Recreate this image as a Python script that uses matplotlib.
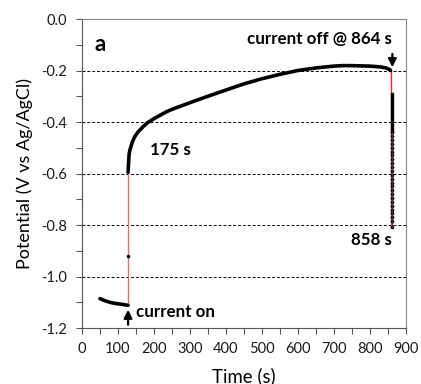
import matplotlib
matplotlib.use("Agg")
import matplotlib.pyplot as plt
from matplotlib.ticker import MultipleLocator, FuncFormatter

plt.rcParams['font.family'] = ['Lato', 'DejaVu Sans']
plt.rcParams['axes.unicode_minus'] = False

# Segment before current on
t_pre = [50, 60, 70, 80, 90, 100, 110, 120, 128]
v_pre = [-1.086, -1.092, -1.097, -1.101, -1.104, -1.106, -1.108, -1.110, -1.112]

# Transition point and current-on step
t_on = 128
v_on_step = [-1.112, -0.595]
t_on_pt = [128]
v_on_pt = [-0.920]

# Current-on charging curve
t_main = [128, 129, 130, 131, 133, 135, 140, 147, 155, 165, 180, 200, 235, 250,
          300, 350, 400, 450, 500, 550, 600, 650, 700, 725, 750, 800, 830, 845, 855, 858]
v_main = [-0.595, -0.57, -0.545, -0.525, -0.51, -0.50, -0.477, -0.456, -0.44, -0.425,
          -0.405, -0.387, -0.36, -0.351, -0.325, -0.300, -0.276, -0.252, -0.232,
          -0.215, -0.200, -0.190, -0.183, -0.181, -0.181, -0.183, -0.186, -0.190, -0.196, -0.200]

# Current-off relaxation
t_off = 859
t_off_pts = 861
v_off_step = [-0.200, -0.806]
v_off_dense = [-0.291, -0.44]
v_off_pts = [-0.44, -0.455, -0.47, -0.485, -0.50, -0.515, -0.53, -0.545, -0.56, -0.575,
             -0.59, -0.605, -0.62, -0.635, -0.65, -0.665, -0.68, -0.695, -0.71, -0.725,
             -0.74, -0.755, -0.77, -0.785, -0.806]

fig = plt.figure(figsize=(4.21, 3.84), dpi=100)
ax = fig.add_axes([0.1948, 0.1458, 0.7688, 0.8047])

ax.set_xlim(0, 900)
ax.set_ylim(-1.2, 0.0)

for y in [-0.2, -0.4, -0.6, -0.8, -1.0]:
    ax.axhline(y, color='black', lw=0.7, ls=(0, (3, 2)), zorder=1)

ax.plot([t_on, t_on], v_on_step, color='#e07070', lw=1.0, zorder=2)
ax.plot([t_off, t_off], v_off_step, color='#ff2020', lw=1.0, zorder=2)

ax.plot(t_pre, v_pre, color='black', lw=2.6, solid_capstyle='round', zorder=3)
ax.plot(t_on_pt, v_on_pt, 'o', color='black', ms=1.5, zorder=3)
ax.plot(t_main, v_main, color='black', lw=2.6, solid_capstyle='round', zorder=3)
ax.plot([t_off_pts, t_off_pts], v_off_dense, color='black', lw=2.4, zorder=3)
ax.plot([t_off_pts] * len(v_off_pts), v_off_pts, 'o', color='black', ms=1.6, lw=0.8, zorder=3)
ax.plot([t_off_pts] * len(v_off_pts), v_off_pts, '-', color='#333333', lw=0.9, zorder=3)

ax.xaxis.set_major_locator(MultipleLocator(100))
ax.xaxis.set_minor_locator(MultipleLocator(50))
ax.yaxis.set_major_locator(MultipleLocator(0.2))
ax.yaxis.set_minor_locator(MultipleLocator(0.1))
ax.yaxis.set_major_formatter(FuncFormatter(lambda v, p: f"{v:.1f}" if abs(v) > 1e-9 else "0.0"))

ax.tick_params(which='both', direction='out', length=4, width=0.8, color='#555555')
ax.tick_params(axis='both', labelsize=10.5, colors='#555555', labelcolor='#1a1a1a')
ax.tick_params(axis='x', pad=6)
ax.tick_params(axis='y', pad=7)

for s in ['top', 'right']:
    ax.spines[s].set_color('#888888')
    ax.spines[s].set_linewidth(0.8)
for s in ['left', 'bottom']:
    ax.spines[s].set_color('#555555')
    ax.spines[s].set_linewidth(0.8)

ax.set_xlabel('Time (s)', fontsize=13.4, labelpad=8)
ax.set_ylabel('Potential (V vs Ag/AgCl)', fontsize=13, labelpad=6)

ax.text(50, -0.1, 'a', fontsize=16, fontweight='bold', ha='center', va='center')
ax.text(659, -0.078, 'current off @ 864 s', fontsize=12.2, fontweight='bold', ha='center', va='center')
ax.annotate('', xy=(863, -0.198), xytext=(863, -0.125),
            arrowprops=dict(arrowstyle='-|>', color='black', lw=1.6, mutation_scale=12))
ax.text(245, -0.509, '175 s', fontsize=12.2, fontweight='bold', ha='center', va='center')
ax.text(805, -0.858, '858 s', fontsize=12.2, fontweight='bold', ha='center', va='center')
ax.text(150, -1.137, 'current on', fontsize=12.2, fontweight='bold', ha='left', va='center')
ax.annotate('', xy=(128, -1.118), xytext=(128, -1.198),
            arrowprops=dict(arrowstyle='-|>', color='black', lw=1.6, mutation_scale=12))

fig.savefig('out.png', dpi=100)
